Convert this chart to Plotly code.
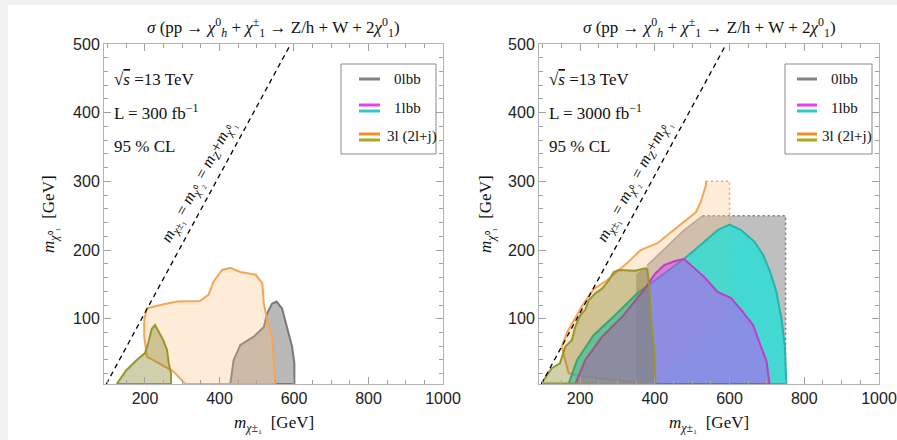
import plotly.graph_objects as go

W, H = 897, 440
MZ = 91.19  # GeV, defines the m_chi1+- = m_Z + m_chi1^0 line

# ---------------- data ----------------
x_range = [90, 1000]
y_range = [5, 500]
x_ticks = [200, 400, 600, 800, 1000]
y_ticks = [100, 200, 300, 400, 500]
line_y = [5, 500]

# Left panel: L = 300 fb^-1
l300_0lbb_x = [429, 438, 456, 492, 519, 528, 541, 553, 568, 582, 595, 601, 601, 429]
l300_0lbb_y = [5, 40, 62, 74, 88, 108, 122, 125, 115, 88, 59, 35, 5, 5]

l300_3l_x = [308, 277, 232, 205, 198, 198, 205, 241, 286, 348, 371, 384, 407, 429,
             456, 497, 515, 519, 528, 541, 550, 308]
l300_3l_y = [5, 23, 37, 45, 74, 98, 115, 120, 125, 126, 135, 154, 171, 174,
             168, 164, 152, 122, 98, 74, 5, 5]

l300_2lj_x = [124, 150, 178, 200, 209, 218, 227, 236, 248, 259, 264, 270, 270, 124]
l300_2lj_y = [5, 25, 40, 50, 65, 85, 91, 82, 70, 55, 35, 20, 5, 5]

# Right panel: L = 3000 fb^-1
r3000_0lbb_x = [350, 350, 380, 425, 478, 528, 750, 750, 350]
r3000_0lbb_y = [5, 165, 178, 202, 229, 250, 250, 5, 5]
r3000_0lbb_edge_x = [380, 425, 478, 528]
r3000_0lbb_edge_y = [178, 202, 229, 250]
r3000_0lbb_dot_x = [528, 750, 750]
r3000_0lbb_dot_y = [250, 250, 5]

r3000_3l_x = [380, 185, 169, 151, 165, 185, 205, 222, 236, 272, 326, 362, 407, 434,
              478, 510, 523, 537, 537]
r3000_3l_y = [5, 18, 21, 59, 80, 100, 118, 132, 143, 156, 181, 200, 210, 222,
              241, 255, 270, 295, 300]
r3000_3l_dot_x = [537, 600, 600]
r3000_3l_dot_y = [300, 300, 112]
r3000_3l_hidden_x = [520, 440, 380]
r3000_3l_hidden_y = [60, 25, 5]

r3000_1lbb_c_x = [169, 192, 236, 299, 353, 407, 478, 524, 568, 600, 631, 667, 690,
                  708, 725, 739, 748, 752, 169]
r3000_1lbb_c_y = [5, 40, 76, 108, 137, 159, 187, 208, 229, 237, 229, 212, 193,
                  169, 140, 100, 60, 5, 5]

r3000_1lbb_m_x = [187, 214, 259, 313, 371, 400, 425, 455, 478, 532, 568, 604, 631,
                  663, 681, 699, 707, 187]
r3000_1lbb_m_y = [5, 40, 74, 103, 142, 165, 178, 184, 187, 161, 139, 130, 113,
                  91, 64, 38, 5, 5]

r3000_2lj_x = [97, 124, 146, 160, 178, 187, 200, 214, 223, 241, 259, 277, 290, 303,
               348, 371, 380, 385, 389, 398, 402, 97]
r3000_2lj_y = [6, 28, 35, 59, 69, 88, 105, 113, 127, 137, 144, 156, 168, 171,
               170, 173, 172, 147, 103, 54, 5, 6]

legend_labels = ["0lbb", "1lbb", "3l (2l+j)"]
lumi_labels = ["L = 300 fb<sup>−1</sup>", "L = 3000 fb<sup>−1</sup>"]

# ---------------- styles ----------------
SERIF = "Liberation Serif"
SANS = "Liberation Sans"
GRAY_L, GRAY_F = "rgb(120,120,120)", "rgba(128,128,128,0.55)"
ORANGE_L, ORANGE_F = "rgb(247,165,85)", "rgba(253,190,125,0.30)"
OLIVE_L, OLIVE_F = "rgb(150,150,45)", "rgba(120,120,20,0.35)"
CYAN_L, CYAN_F = "rgb(40,180,170)", "rgba(0,230,220,0.65)"
MAG_L, MAG_F = "rgb(190,60,200)", "rgba(235,40,255,0.42)"


def px(x):
    return x / W


def py(y):
    return 1 - y / H


fig = go.Figure()


def poly(xs, ys, fill, line, width=2, ax="", dash=None):
    fig.add_trace(go.Scatter(
        x=xs, y=ys, mode="lines", fill="toself" if fill else None,
        fillcolor=fill, line=dict(color=line if line else "rgba(0,0,0,0)",
                                  width=width if line else 0, dash=dash),
        hoverinfo="skip", showlegend=False,
        xaxis="x" + ax, yaxis="y" + ax))


def line(xs, ys, color, width=2, ax="", dash=None):
    fig.add_trace(go.Scatter(
        x=xs, y=ys, mode="lines", line=dict(color=color, width=width, dash=dash),
        hoverinfo="skip", showlegend=False, xaxis="x" + ax, yaxis="y" + ax))


# ---- left panel ----
poly(l300_0lbb_x, l300_0lbb_y, GRAY_F, GRAY_L)
poly(l300_3l_x, l300_3l_y, ORANGE_F, ORANGE_L)
poly(l300_2lj_x, l300_2lj_y, OLIVE_F, OLIVE_L)
line([y + MZ for y in line_y], line_y, "black", 1.3, dash="5px,4px")

# ---- right panel ----
poly(r3000_0lbb_x, r3000_0lbb_y, "rgba(128,128,128,0.5)", None, ax="2")
line(r3000_0lbb_edge_x, r3000_0lbb_edge_y, "rgba(150,140,130,0.8)", 1.5, ax="2")
line(r3000_0lbb_dot_x, r3000_0lbb_dot_y, GRAY_L, 1.5, ax="2", dash="2px,3px")
o_fill_x = r3000_3l_x + r3000_3l_dot_x + r3000_3l_hidden_x
o_fill_y = r3000_3l_y + r3000_3l_dot_y + r3000_3l_hidden_y
poly(o_fill_x, o_fill_y, ORANGE_F, None, ax="2")
line(r3000_3l_x, r3000_3l_y, ORANGE_L, 2, ax="2")
line(r3000_3l_dot_x, r3000_3l_dot_y, ORANGE_L, 1.5, ax="2", dash="2px,3px")
poly(r3000_1lbb_c_x, r3000_1lbb_c_y, CYAN_F, CYAN_L, ax="2")
poly(r3000_1lbb_m_x, r3000_1lbb_m_y, MAG_F, MAG_L, ax="2")
poly(r3000_2lj_x, r3000_2lj_y, OLIVE_F, OLIVE_L, ax="2")
line([y + MZ for y in line_y], line_y, "black", 1.3, ax="2", dash="5px,4px")

# ---- axes ----
dom_left = [px(104), px(443)]
dom_right = [px(539), px(879)]
dom_y = [py(384), py(44)]
common = dict(showline=True, linecolor="#b4b4b4", linewidth=1, mirror="allticks",
              ticks="inside", ticklen=7, tickcolor="#a0a0a0", showgrid=False,
              zeroline=False, automargin=False,
              tickfont=dict(family=SANS, size=16, color="#222"))
xa = dict(common, range=x_range, tickvals=x_ticks,
          minor=dict(dtick=50, tick0=0, ticks="inside", ticklen=4, tickcolor="#a0a0a0"))
ya = dict(common, range=y_range, tickvals=y_ticks,
          minor=dict(dtick=20, tick0=0, ticks="inside", ticklen=4, tickcolor="#a0a0a0"))

fig.update_layout(
    width=W, height=H, margin=dict(l=0, r=0, t=0, b=0, pad=0), autosize=False,
    paper_bgcolor="white", plot_bgcolor="white", showlegend=False,
    xaxis=dict(xa, domain=dom_left, anchor="y"),
    yaxis=dict(ya, domain=dom_y, anchor="x"),
    xaxis2=dict(xa, domain=dom_right, anchor="y2"),
    yaxis2=dict(ya, domain=dom_y, anchor="x2"),
)

shapes = [
    dict(type="rect", xref="paper", yref="paper", x0=0, x1=px(8), y0=0, y1=1,
         fillcolor="#f2f2f2", line=dict(width=0), layer="below"),
    dict(type="rect", xref="paper", yref="paper", x0=0, x1=1, y0=py(5), y1=1,
         fillcolor="#f2f2f2", line=dict(width=0), layer="below"),
]
ann = []

title = ("<i>σ</i> (pp → <i>χ</i><sup>0</sup><sub><i>h</i></sub> + "
         "<i>χ</i><sup>±</sup><sub>1</sub> → Z/h + W + 2<i>χ</i><sup>0</sup><sub>1</sub>)")
xtitle = "<i>m</i><sub><i>χ</i>±₁</sub>  [GeV]"
ytitle = "<i>m</i><sub><i>χ</i>⁰₁</sub>  [GeV]"
diag = ("<i>m</i><sub><i>χ</i>±₁</sub> = <i>m</i><sub><i>χ</i>⁰₂</sub> = "
        "<i>m</i><sub><i>Z</i></sub>+<i>m</i><sub><i>χ</i>⁰₁</sub>")
sqrt_s = "√<span style='text-decoration:overline'><i>s</i></span> =13 TeV"

panels = [
    dict(ax="", left=104, right=443, ytx=50, box=(341, 436), lx=(359, 380), tx=407, tx3=412),
    dict(ax="2", left=539, right=879, ytx=487, box=(785, 872), lx=(797, 817), tx=844, tx3=847),
]


def txt(x, y, text, size, xanchor="center", angle=0, xref="paper", yref="paper"):
    ann.append(dict(xref=xref, yref=yref, x=x, y=y, text=text, showarrow=False,
                    xanchor=xanchor, yanchor="middle", textangle=angle,
                    font=dict(family=SERIF, color="#111", size=size)))


for i, p in enumerate(panels):
    cx = (p["left"] + p["right"]) / 2
    txt(px(cx), py(27), title, 17)
    txt(px(cx), py(424), xtitle, 17)
    txt(px(p["ytx"]), py(214), ytitle, 17, angle=-90)
    for t, yy in zip([sqrt_s, lumi_labels[i], "95 % CL"], [79, 112, 146]):
        txt(px(p["left"] + 8), py(yy), t, 17, xanchor="left")
    txt(343, 300, diag, 16, angle=-61.6, xref="x" + p["ax"], yref="y" + p["ax"])
    # legend box
    shapes.append(dict(type="rect", xref="paper", yref="paper", x0=px(p["box"][0]),
                       x1=px(p["box"][1]), y0=py(154), y1=py(64),
                       line=dict(color="#8a8a8a", width=1), fillcolor="white"))
    for ycoord, col in [(79, "rgb(130,130,130)"), (105, "rgb(240,60,240)"),
                        (111, "rgb(50,200,200)"), (134, "rgb(245,140,40)"),
                        (140, "rgb(170,170,30)")]:
        shapes.append(dict(type="line", xref="paper", yref="paper", x0=px(p["lx"][0]),
                           x1=px(p["lx"][1]), y0=py(ycoord), y1=py(ycoord),
                           line=dict(color=col, width=3)))
    for lab, yy, xx in zip(legend_labels, [79, 108, 137], [p["tx"], p["tx"], p["tx3"]]):
        txt(px(xx), py(yy), lab, 15)

fig.update_layout(shapes=shapes, annotations=ann)
fig.write_html("out.html", config={"displayModeBar": False},
               post_script="document.body.style.margin='0';"
                           "document.body.style.overflow='hidden';")
